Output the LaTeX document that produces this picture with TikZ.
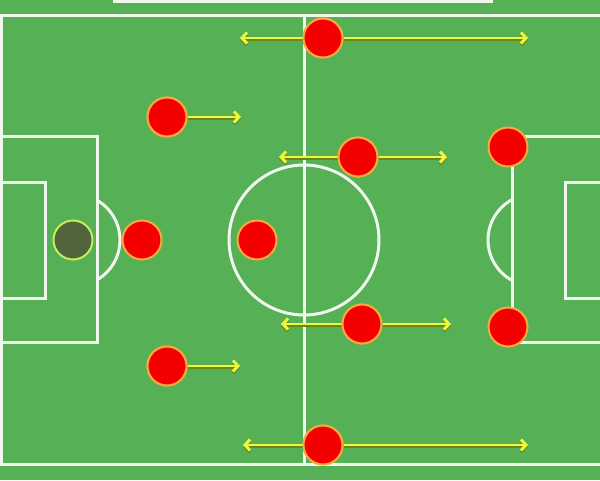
\documentclass[tikz,border=0pt]{standalone}
\usetikzlibrary{arrows.meta}
\definecolor{pitch}{RGB}{86,176,86}
\definecolor{chalk}{RGB}{240,248,238}
\definecolor{redp}{RGB}{245,0,0}
\definecolor{ringp}{RGB}{245,170,60}
\definecolor{gkfill}{RGB}{80,100,62}
\definecolor{gkring}{RGB}{200,235,90}
\definecolor{arrowy}{RGB}{236,248,60}
\definecolor{arrowsh}{RGB}{105,135,25}
\tikzset{
  chalkline/.style={draw=chalk, line width=3pt},
  player/.style={circle, fill=redp, draw=ringp, line width=2pt, minimum size=39pt, inner sep=0pt},
  keeper/.style={circle, fill=gkfill, draw=gkring, line width=2pt, minimum size=39pt, inner sep=0pt},
  run/.style={draw=arrowy, line width=2.6pt, -{Straight Barb[length=5pt,width=11pt,line width=3pt]},
    preaction={draw=arrowsh, transform canvas={yshift=-1.6pt}, line width=2.6pt, -{Straight Barb[length=5pt,width=11pt,line width=3pt]}}}
}
\begin{document}
\begin{tikzpicture}[x=1pt,y=-1pt]
\useasboundingbox (0,0) rectangle (600,480);
\fill[pitch] (0,0) rectangle (600,480);
% top bar
\fill[chalk] (113,-5) rectangle (493,2.5);
% outer lines
\draw[chalkline] (-5,15) -- (610,15);
\draw[chalkline] (-5,464) -- (610,464);
\draw[chalkline] (1,15) -- (1,464);
% halfway line and centre circle
\draw[chalkline] (304,15) -- (304,464);
\draw[chalkline] (304,240) circle[radius=75];
% left boxes
\draw[chalkline] (-5,136) -- (97,136) -- (97,342) -- (-5,342);
\draw[chalkline] (-5,182) -- (45,182) -- (45,298) -- (-5,298);
\begin{scope}
\clip (97,0) rectangle (200,480);
\draw[chalkline] (74,240) circle[radius=46];
\end{scope}
% right boxes
\draw[chalkline] (610,136) -- (512,136) -- (512,342) -- (610,342);
\draw[chalkline] (610,182) -- (565,182) -- (565,298) -- (610,298);
\begin{scope}
\clip (400,0) rectangle (512,480);
\draw[chalkline] (534,240) circle[radius=46];
\end{scope}
% players
\node[keeper] (gk) at (73,240) {};
\node[player] (p1) at (323,38) {};
\node[player] (p2) at (167,117) {};
\node[player] (p3) at (358,157) {};
\node[player] (p4) at (508,147) {};
\node[player] (p5) at (142,240) {};
\node[player] (p6) at (257,240) {};
\node[player] (p7) at (362,324) {};
\node[player] (p8) at (508,327) {};
\node[player] (p9) at (167,366) {};
\node[player] (p10) at (323,445) {};
% arrow ends
\coordinate (a1l) at (240,38);
\coordinate (a1r) at (528,38);
\coordinate (a2r) at (241,117);
\coordinate (a3l) at (279,157);
\coordinate (a3r) at (447,157);
\coordinate (a7l) at (281,324);
\coordinate (a7r) at (451,324);
\coordinate (a9r) at (240,366);
\coordinate (a10l) at (243,445);
\coordinate (a10r) at (528,445);
% runs
\draw[run] (p1) -- (a1l);
\draw[run] (p1) -- (a1r);
\draw[run] (p2) -- (a2r);
\draw[run] (p3) -- (a3l);
\draw[run] (p3) -- (a3r);
\draw[run] (p7) -- (a7l);
\draw[run] (p7) -- (a7r);
\draw[run] (p9) -- (a9r);
\draw[run] (p10) -- (a10l);
\draw[run] (p10) -- (a10r);
% redraw players on top
\node[player] at (p1) {};
\node[player] at (p2) {};
\node[player] at (p3) {};
\node[player] at (p7) {};
\node[player] at (p9) {};
\node[player] at (p10) {};
\end{tikzpicture}
\end{document}
